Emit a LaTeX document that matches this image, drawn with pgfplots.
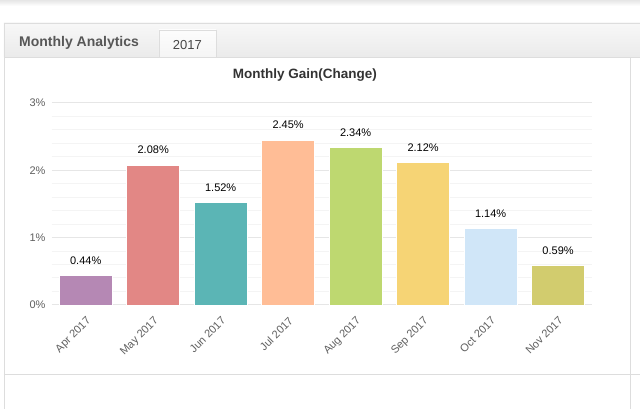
\documentclass[border=0pt]{standalone}
\usepackage{pgfplots}
\pgfplotsset{compat=1.18}
\usepackage{fontspec}
\setmainfont{Liberation Sans}
\definecolor{cApr}{HTML}{B588B4}
\definecolor{cMay}{HTML}{E28785}
\definecolor{cJun}{HTML}{5BB5B5}
\definecolor{cJul}{HTML}{FFBD96}
\definecolor{cAug}{HTML}{BED870}
\definecolor{cSep}{HTML}{F6D475}
\definecolor{cOct}{HTML}{D0E6F8}
\definecolor{cNov}{HTML}{D2CC6E}
\definecolor{border}{HTML}{DDDDDD}
\definecolor{majgrid}{HTML}{E6E6E6}
\definecolor{mingrid}{HTML}{F4F4F4}
\definecolor{lbl}{HTML}{606060}
\begin{document}
\begin{tikzpicture}[x=1pt,y=1pt]
\fill[white] (0,0) rectangle (640,409);
\shade[top color=black!10, bottom color=white] (0,403) rectangle (640,409);
% header band
\shade[top color=black!3, bottom color=black!8] (4,352) rectangle (640,386);
\draw[border] (4,386) -- (640,386);
\draw[border] (4,352) -- (640,352);
\draw[border] (4,0) -- (4,386);
% tab
\shade[top color=black!1, bottom color=black!4] (159,352) rectangle (216,379);
\draw[border] (159,352) -- (159,379) -- (216,379) -- (216,352);
\node[font=\bfseries\fontsize{14}{16}\selectfont, text=black!66, anchor=west, inner sep=0pt] at (19,366) {Monthly Analytics};
\node[font=\fontsize{13}{15}\selectfont, text=black!72, inner sep=0pt] at (187.5,364) {2017};
\draw[border] (630,0) -- (630,352);
\draw[border] (4,35) -- (640,35);
% title
\node[font=\bfseries\fontsize{13.5}{15}\selectfont, text=black!80, inner sep=0pt] at (305,334) {Monthly Gain(Change)};
\begin{axis}[
  at={(52pt,104pt)}, anchor=south west, scale only axis,
  width=540pt, height=202pt,
  xmin=-0.5, xmax=7.5, ymin=0, ymax=3,
  axis line style={draw=none},
  major tick length=0pt, minor tick length=0pt,
  ytick={0,1,2,3}, minor y tick num=4,
  ymajorgrids, yminorgrids,
  major grid style={majgrid, line width=1pt},
  minor grid style={mingrid, line width=1pt},
  /pgf/number format/assume math mode=true,
  yticklabel={\pgfmathprintnumber{\tick}\%},
  yticklabel style={font=\fontsize{11}{13}\selectfont, text=lbl, xshift=-3pt},
  xtick={0,...,7},
  xticklabels={Apr 2017,May 2017,Jun 2017,Jul 2017,Aug 2017,Sep 2017,Oct 2017,Nov 2017},
  xticklabel shift=11pt,
  xticklabel style={font=\fontsize{11}{13}\selectfont, text=lbl, rotate=45, anchor=north east, inner sep=0pt},
  ybar, bar width=53pt, bar shift=0pt,
  every axis plot/.append style={draw=white, line width=0.6pt},
  nodes near coords={\pgfmathprintnumber[fixed,precision=2,fixed zerofill]{\pgfplotspointmeta}\%},
  every node near coord/.append style={font=\fontsize{11}{13}\selectfont, text=black, anchor=base, inner sep=0pt, yshift=11pt},
  clip=false
]
\addplot[fill=cApr] coordinates {(0,0.44)};
\addplot[fill=cMay] coordinates {(1,2.08)};
\addplot[fill=cJun] coordinates {(2,1.52)};
\addplot[fill=cJul] coordinates {(3,2.45)};
\addplot[fill=cAug] coordinates {(4,2.34)};
\addplot[fill=cSep] coordinates {(5,2.12)};
\addplot[fill=cOct] coordinates {(6,1.14)};
\addplot[fill=cNov] coordinates {(7,0.59)};
\end{axis}
\end{tikzpicture}
\end{document}
